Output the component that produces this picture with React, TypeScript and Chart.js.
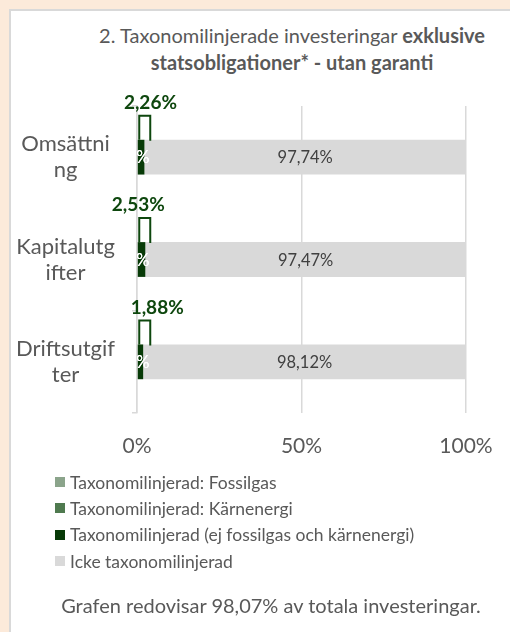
import React, { useEffect, useRef } from "react";
import { Chart, registerables } from "chart.js";

Chart.register(...registerables);

// ---------- data ----------
const categories = ["Omsättning", "Kapitalutgifter", "Driftsutgifter"];
const categoryTickLines = [
  ["Omsättni", "ng"],
  ["Kapitalutg", "ifter"],
  ["Driftsutgif", "ter"],
];
const seriesNames = [
  "Taxonomilinjerad: Fossilgas",
  "Taxonomilinjerad: Kärnenergi",
  "Taxonomilinjerad (ej fossilgas och kärnenergi)",
  "Icke taxonomilinjerad",
];
const fossilgas = [0, 0, 0];
const karnenergi = [0, 0, 0];
const taxAligned = [2.26, 2.53, 1.88];
const notAligned = [97.74, 97.47, 98.12];
const xTickValues = [0, 50, 100];
const coverageText = "Grafen redovisar 98,07% av totala investeringar.";

// ---------- styles ----------
const seriesColors = ["#8BA48B", "#4F7A4F", "#073A07", "#D9D9D9"];
const FONT = "Lato, 'Open Sans', sans-serif";
const textGrey = "#595959";
const labelNudgeX = [6, -7, 14];

const fmt = (v: number) => (v === 0 ? "0%" : v.toFixed(2).replace(".", ",") + "%");

const labelPlugin = {
  id: "barLabels",
  afterDatasetsDraw(chart: any) {
    const ctx = chart.ctx;
    ctx.save();
    ctx.textBaseline = "middle";
    ctx.textAlign = "center";
    // grey series labels
    const metaGrey = chart.getDatasetMeta(3);
    metaGrey.data.forEach((bar: any, i: number) => {
      const p = bar.getProps(["x", "y", "base"], true);
      ctx.fillStyle = "#404040";
      ctx.font = `16.5px ${FONT}`;
      ctx.fillText(fmt(notAligned[i]), (p.x + p.base) / 2, p.y + 1);
    });
    // zero series labels (white, mostly invisible)
    [0, 1].forEach((di) => {
      const meta = chart.getDatasetMeta(di);
      const data = chart.data.datasets[di].data;
      meta.data.forEach((bar: any, i: number) => {
        const p = bar.getProps(["x", "y", "base"], true);
        ctx.fillStyle = "#FFFFFF";
        ctx.font = `16.5px ${FONT}`;
        ctx.fillText(fmt(data[i]), p.base + 1, p.y + 1);
      });
    });
    // aligned series: bold label with callout
    const metaG = chart.getDatasetMeta(2);
    metaG.data.forEach((bar: any, i: number) => {
      const p = bar.getProps(["x", "y", "base", "height"], true);
      const top = p.y - p.height / 2;
      const ly = top - 37;
      const lx = p.x + labelNudgeX[i];
      ctx.fillStyle = "#0E470E";
      ctx.font = `bold 19px ${FONT}`;
      ctx.fillText(fmt(taxAligned[i]), lx, ly);
      ctx.strokeStyle = "#0E470E";
      ctx.lineWidth = 2;
      ctx.beginPath();
      const x0 = p.base + 1.5;
      const x1 = x0 + 11;
      ctx.moveTo(x0, top);
      ctx.lineTo(x0, ly + 13);
      ctx.lineTo(x1, ly + 13);
      ctx.lineTo(x1, top + 1);
      ctx.stroke();
    });
    ctx.restore();
  },
};

export default function App() {
  const canvasRef = useRef<HTMLCanvasElement | null>(null);

  useEffect(() => {
    document.body.style.margin = "0";
    const canvas = canvasRef.current!;
    const chart = new Chart(canvas, {
      type: "bar",
      data: {
        labels: categories,
        datasets: [fossilgas, karnenergi, taxAligned, notAligned].map((d, k) => ({
          label: seriesNames[k],
          data: d,
          backgroundColor: seriesColors[k],
          borderWidth: 0,
          categoryPercentage: 1,
          barPercentage: 0.34,
        })),
      },
      options: {
        indexAxis: "y",
        animation: false,
        responsive: false,
        maintainAspectRatio: false,
        layout: { padding: { left: 0, right: 44, top: 106, bottom: 169 } },
        plugins: {
          legend: { display: false },
          tooltip: { enabled: false },
          title: { display: false },
        },
        scales: {
          x: {
            stacked: true,
            min: 0,
            max: 100,
            afterBuildTicks(scale: any) {
              scale.ticks = xTickValues.map((v) => ({ value: v }));
            },
            afterFit(scale: any) {
              scale.height = 50;
              scale.paddingLeft = 0;
              scale.paddingRight = 0;
            },
            ticks: {
              callback: (v: any) => v + "%",
              color: textGrey,
              font: { family: FONT, size: 21 },
              padding: 21,
              maxRotation: 0,
            },
            grid: { color: "#D9D9D9", lineWidth: 1.5, drawTicks: false },
            border: { display: false },
          },
          y: {
            stacked: true,
            afterFit(scale: any) {
              scale.width = 137;
            },
            ticks: {
              callback: (_v: any, i: number) => categoryTickLines[i],
              color: textGrey,
              crossAlign: "center",
              padding: 17,
              font: { family: FONT, size: 22, lineHeight: 1.18 },
            },
            grid: {
              offset: true,
              drawOnChartArea: false,
              tickLength: 5,
              color: "#D9D9D9",
              lineWidth: 1.5,
            },
            border: { display: true, color: "#D9D9D9", width: 1.5 },
          },
        },
      },
      plugins: [labelPlugin],
    } as any);
    return () => chart.destroy();
  }, []);

  return (
    <div
      style={{
        position: "fixed",
        left: 0,
        top: 0,
        width: 510,
        height: 632,
        background: "#FCEADA",
        overflow: "hidden",
        fontFamily: FONT,
      }}
    >
      <div
        style={{
          position: "absolute",
          left: 9,
          top: 9,
          width: 600,
          height: 700,
          background: "#FFFFFF",
          borderLeft: "2px solid #D9D9D9",
          borderTop: "2px solid #D9D9D9",
        }}
      />
      <div
        style={{
          position: "absolute",
          left: 0,
          top: 22,
          width: 584,
          textAlign: "center",
          fontSize: 20,
          lineHeight: "27px",
          color: textGrey,
        }}
      >
        2. Taxonomilinjerade investeringar <b>exklusive</b>
        <br />
        <b>statsobligationer* - utan garanti</b>
      </div>
      <canvas
        ref={canvasRef}
        width={510}
        height={632}
        style={{ position: "absolute", left: 0, top: 0, width: 510, height: 632 }}
      />
      <div style={{ position: "absolute", left: 55, top: 469 }}>
        {seriesNames.map((n, k) => (
          <div
            key={n}
            style={{
              display: "flex",
              alignItems: "center",
              height: 26.3,
              fontSize: 17.5,
              color: textGrey,
              whiteSpace: "nowrap",
            }}
          >
            <span
              style={{
                display: "inline-block",
                width: 10,
                height: 10,
                background: seriesColors[k],
                marginRight: 5,
                flex: "none",
              }}
            />
            {n}
          </div>
        ))}
      </div>
      <div
        style={{
          position: "absolute",
          left: 0,
          top: 592,
          width: 542,
          textAlign: "center",
          fontSize: 20,
          lineHeight: "26px",
          color: textGrey,
          whiteSpace: "nowrap",
        }}
      >
        {coverageText}
      </div>
    </div>
  );
}
